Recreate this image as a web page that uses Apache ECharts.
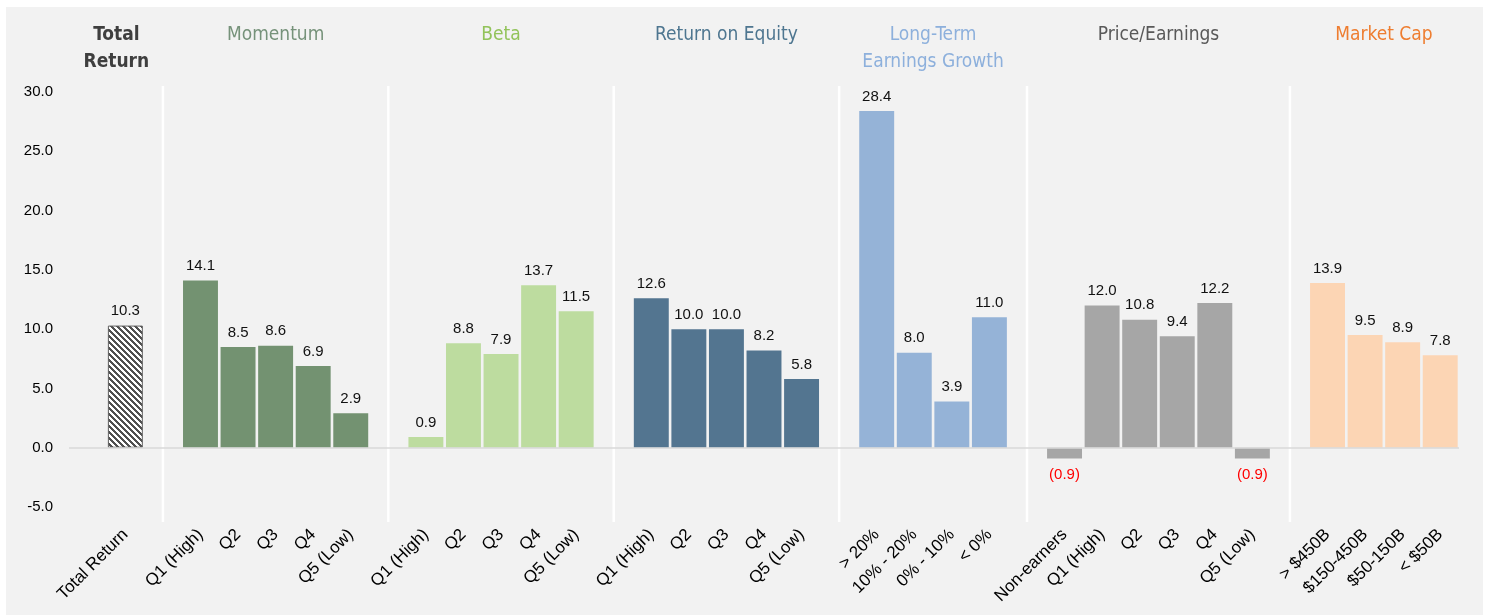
<!DOCTYPE html>
<html><head><meta charset="utf-8">
<script src="https://cdn.jsdelivr.net/npm/echarts@6/dist/echarts.min.js"></script>
<style>
html,body{margin:0;padding:0;background:#fff;width:1489px;height:615px;overflow:hidden}
#bg{position:absolute;left:6px;top:7px;width:1477px;height:608px;background:#f2f2f2}
#chart{position:absolute;left:0;top:0;width:1489px;height:615px}
</style></head>
<body><div id="bg"></div><div id="chart"></div>
<script>
// ---- data ----
const totalReturnCats = ['Total Return'];
const totalReturnVals = [10.3];
const momentumCats = ['Q1 (High)', 'Q2', 'Q3', 'Q4', 'Q5 (Low)'];
const momentumVals = [14.1, 8.5, 8.6, 6.9, 2.9];
const betaCats = ['Q1 (High)', 'Q2', 'Q3', 'Q4', 'Q5 (Low)'];
const betaVals = [0.9, 8.8, 7.9, 13.7, 11.5];
const roeCats = ['Q1 (High)', 'Q2', 'Q3', 'Q4', 'Q5 (Low)'];
const roeVals = [12.6, 10.0, 10.0, 8.2, 5.8];
const ltegCats = ['> 20%', '10% - 20%', '0% - 10%', '< 0%'];
const ltegVals = [28.4, 8.0, 3.9, 11.0];
const peCats = ['Non-earners', 'Q1 (High)', 'Q2', 'Q3', 'Q4', 'Q5 (Low)'];
const peVals = [-0.9, 12.0, 10.8, 9.4, 12.2, -0.9];
const mcapCats = ['> $450B', '$150-450B', '$50-150B', '< $50B'];
const mcapVals = [13.9, 9.5, 8.9, 7.8];
const groupTitles = ['Total\nReturn', 'Momentum', 'Beta', 'Return on Equity', 'Long-Term\nEarnings Growth', 'Price/Earnings', 'Market Cap'];
const yTicks = [-5, 0, 5, 10, 15, 20, 25, 30];

// ---- styles ----
const barColors = [null, '#739271', '#bddc9f', '#537590', '#95b3d7', '#a6a6a6', '#fcd5b4'];
const titleColors = ['#3f3f3f', '#76927a', '#92c35a', '#4e7690', '#8db0dc', '#595959', '#ee7d30'];

// hatch pattern for total return
const P = 6;
const pc = document.createElement('canvas');
pc.width = P; pc.height = P;
const pctx = pc.getContext('2d');
const img = pctx.createImageData(P, P);
for (let y = 0; y < P; y++) for (let x = 0; x < P; x++) {
  const dark = ((x - y + 2 * P) % P) < 3;
  const i = (y * P + x) * 4;
  const c = dark ? 80 : 255;
  img.data[i] = c; img.data[i+1] = c; img.data[i+2] = c; img.data[i+3] = 255;
}
pctx.putImageData(img, 0, 0);

const groups = [
  [totalReturnCats, totalReturnVals],
  [momentumCats, momentumVals],
  [betaCats, betaVals],
  [roeCats, roeVals],
  [ltegCats, ltegVals],
  [peCats, peVals],
  [mcapCats, mcapVals]
];

const categories = [''];
const data = [null];
const gapIdx = [];
const groupRanges = [];
groups.forEach((g, gi) => {
  if (gi > 0) { gapIdx.push(categories.length); categories.push(''); data.push(null); }
  const start = categories.length;
  g[0].forEach((c, k) => {
    categories.push(c);
    const v = g[1][k];
    const item = { value: v, itemStyle: {} };
    if (gi === 0) {
      item.itemStyle = { color: { image: pc, repeat: 'repeat' }, borderColor: '#606060', borderWidth: 1 };
    } else {
      item.itemStyle = { color: barColors[gi] };
    }
    if (v < 0) {
      item.label = { position: 'bottom', distance: 9, color: '#ff0000' };
    }
    data.push(item);
  });
  groupRanges.push([start, categories.length - 1]);
});

const chart = echarts.init(document.getElementById('chart'), null, { renderer: 'canvas' });
const FONT = '"Liberation Sans Narrow", "Liberation Sans", sans-serif';
const option = {
  animation: false,
  backgroundColor: 'transparent',
  grid: { left: 69, right: 30, top: 92, bottom: 108, containLabel: false },
  xAxis: {
    type: 'category',
    data: categories,
    axisLine: { show: false, onZero: false },
    axisTick: { show: false },
    axisLabel: { interval: 0, rotate: 45, margin: 25, fontFamily: FONT, fontSize: 17, color: '#000' },
    splitLine: { show: false }
  },
  yAxis: {
    type: 'value',
    min: yTicks[0], max: yTicks[yTicks.length - 1], interval: 5,
    axisLine: { show: false }, axisTick: { show: false },
    splitLine: { show: false },
    axisLabel: { margin: 16, fontFamily: FONT, fontSize: 15, color: '#000', formatter: v => v.toFixed(1) }
  },
  series: [{
    type: 'bar',
    data: data,
    barCategoryGap: '7%',
    label: {
      show: true, position: 'top', distance: 7,
      fontFamily: FONT, fontSize: 15, color: '#111',
      formatter: p => p.value < 0 ? '(' + Math.abs(p.value).toFixed(1) + ')' : p.value.toFixed(1)
    },
    markLine: {
      silent: true, symbol: 'none', label: { show: false },
      lineStyle: { color: '#d9d9d9', type: 'solid', width: 1.5 },
      data: [{ yAxis: 0 }]
    }
  }]
};
chart.setOption(option);

const px = i => chart.convertToPixel({ xAxisIndex: 0 }, i);
const graphics = [];
gapIdx.forEach(i => {
  const x = px(i);
  graphics.push({ type: 'line', silent: true, shape: { x1: x, y1: 86, x2: x, y2: 522 }, style: { stroke: '#ffffff', lineWidth: 2.5 } });
});
groupRanges.forEach((r, gi) => {
  const x = (px(r[0]) + px(r[1])) / 2 + (gi === 0 ? -9 : 0);
  graphics.push({
    type: 'text', silent: true, x: x, y: 22,
    style: {
      text: groupTitles[gi], fill: titleColors[gi], align: 'center', verticalAlign: 'top',
      lineHeight: 27, fontSize: 19, fontWeight: gi === 0 ? 'bold' : 'normal',
      fontFamily: '"DejaVu Sans Condensed", "Liberation Sans Narrow", sans-serif'
    }
  });
});
chart.setOption({ graphic: graphics });
</script></body></html>
